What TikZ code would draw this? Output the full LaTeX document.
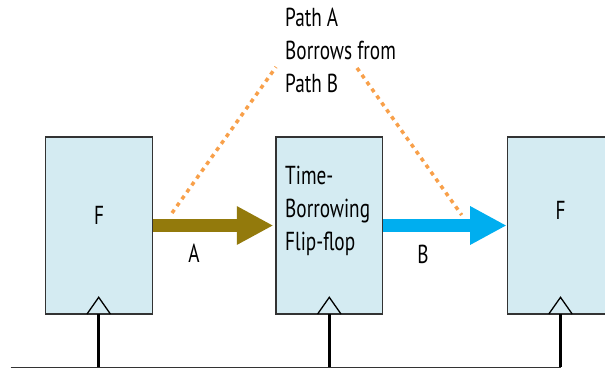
\documentclass[tikz,border=0pt]{standalone}
\usepackage{fontspec}
\setmainfont{PT Sans}[FakeStretch=0.74]
\usetikzlibrary{arrows.meta}
\definecolor{boxfill}{HTML}{D4EBF2}
\definecolor{boxline}{HTML}{333333}
\definecolor{olivearrow}{HTML}{937A0C}
\definecolor{bluearrow}{HTML}{00AEEF}
\definecolor{dotorange}{HTML}{F8A04A}
\tikzset{
  ffbox/.style={draw=boxline, line width=1.3pt, fill=boxfill, inner sep=0pt,
    minimum width=106.6pt, minimum height=177pt},
  txt/.style={font=\fontsize{26}{33}\selectfont, inner sep=0pt, align=left},
  fatarrow/.style={line width=12.4pt, -{Triangle[length=36.5pt,width=36pt]}},
  dotline/.style={draw=dotorange, line width=3.5pt, dash pattern=on 4pt off 4.5pt},
  clockline/.style={line width=3pt, black},
  clocktri/.style={line width=1.3pt, black, line join=miter},
}
\begin{document}
\begin{tikzpicture}[x=1pt,y=-1pt]
\useasboundingbox (0,0) rectangle (605,368);
\clip (0,0) rectangle (605,368);
% boxes
\node[ffbox] (L) at (99,225.5) {};
\node[ffbox] (M) at (329.3,225.5) {};
\node[ffbox, minimum width=120pt] (R) at (567.3,225.5) {};
% texts in boxes
\node[txt, anchor=base] (LF) at (99,224) {F};
\node[txt, anchor=base] (RF) at (560.5,219.3) {F};
\node[txt, anchor=base west] (MT) at (285,250) {Time-\\Borrowing\\Flip-flop};
% path text
\node[txt, anchor=base west] (PT) at (285,92.3) {Path A\\Borrows from\\Path B};
% arrows
\draw[fatarrow, olivearrow, shorten >=2pt] (L.east) -- (M.west);
\draw[fatarrow, bluearrow] (M.east) -- (R.west);
\node[txt, anchor=base] (LA) at (194,262.7) {A};
\node[txt, anchor=base] (LB) at (423,263) {B};
% dotted lines
\coordinate (d1a) at (172,213);
\coordinate (d1b) at (276,67);
\coordinate (d2a) at (357,68);
\coordinate (d2b) at (461.7,215);
\draw[dotline] (d1a) -- (d1b);
\draw[dotline] (d2a) -- (d2b);
% clocks
\coordinate (bus0) at (10.7,367.3);
\coordinate (bus1) at (561,367.3);
\draw[line width=1.5pt, boxline] (bus0) -- (bus1);
\foreach \n/\x in {L/98.7, M/329.3, R/560.5}{
  \coordinate (\n c) at (\x,314);
  \coordinate (\n g) at (\x,367.3);
  \draw[clockline] (\n c) -- (\n g);
  \draw[clocktri] ([xshift=-11.7pt]\n c) -- ([yshift=16.7pt]\n c) -- ([xshift=11.7pt]\n c);
}
\end{tikzpicture}
\end{document}
